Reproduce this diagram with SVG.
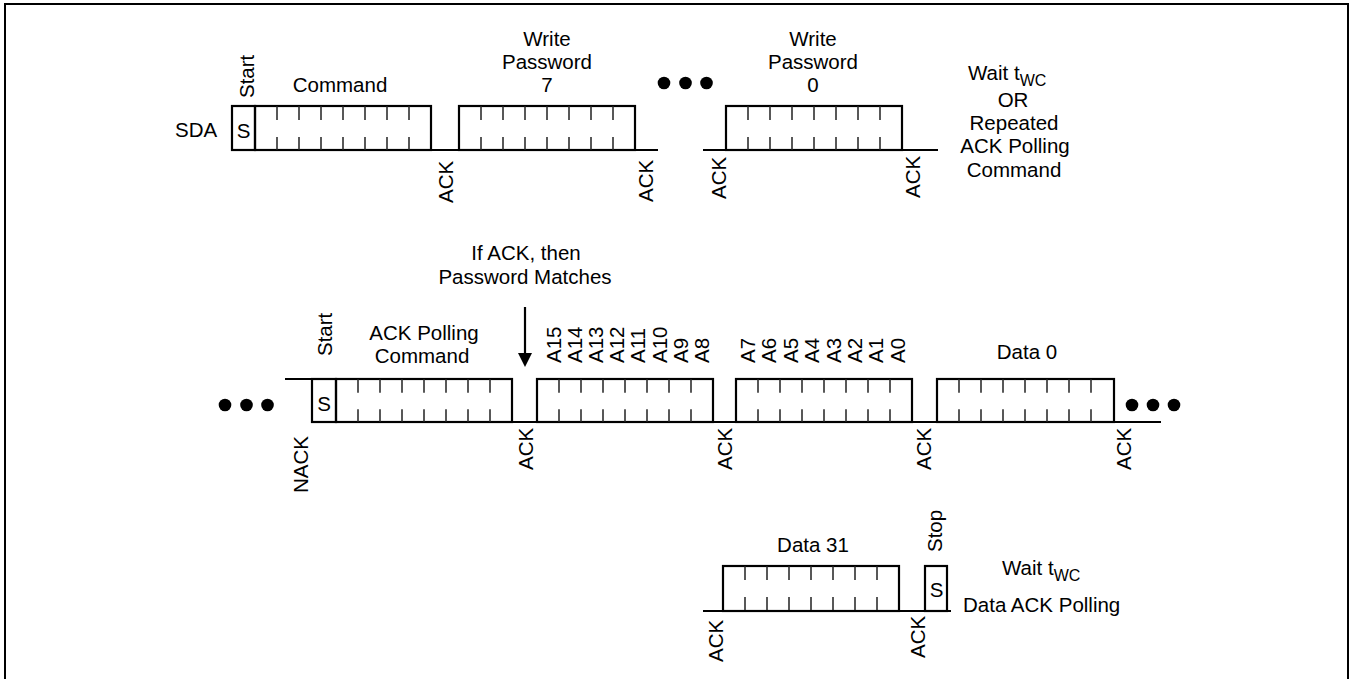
<svg xmlns="http://www.w3.org/2000/svg" width="1350" height="679" viewBox="0 0 1350 679">
<style>
text{font-family:"Liberation Sans",Arial,sans-serif;font-size:20.5px;fill:#000}
.m{text-anchor:middle}
.box{fill:none;stroke:#000;stroke-width:2.2}
.tk{stroke:#222;stroke-width:1.5}
.ln{stroke:#000;stroke-width:2.2;fill:none}
.dot{fill:#000}
.sub{font-size:16px}
</style>
<defs>
<path id="tk1" d="M22,0v14M44,0v14M66,0v14M88,0v14M110,0v14M132,0v14M154,0v14M22,31v13M44,31v13M66,31v13M88,31v13M110,31v13M132,31v13M154,31v13"/>
</defs>
<rect x="5" y="4" width="1343" height="700" fill="none" stroke="#000" stroke-width="2"/>

<g id="connectors">
<path class="ln" d="M232,150H658M703,150H938"/>
<path class="ln" d="M285,379H312M312,422H1161"/>
<path class="ln" d="M703,611H951"/>
<line class="ln" x1="525" y1="307" x2="525" y2="354" stroke-width="1.8"/>
<polygon points="518,353 532,353 525,367" fill="#000"/>
</g>

<g id="row1">
<text x="175" y="137">SDA</text>
<g id="start1">
<rect class="box" x="232" y="106" width="23" height="44"/>
<text class="m" x="243.5" y="138">S</text>
<text transform="translate(254,98) rotate(-90)">Start</text>
</g>
<g id="command1">
<rect class="box" x="255" y="106" width="176" height="44"/>
<use href="#tk1" class="tk" transform="translate(255,106)"/>
<text class="m" x="340" y="92">Command</text>
</g>
<g id="wp7">
<rect class="box" x="459" y="106" width="176" height="44"/>
<use href="#tk1" class="tk" transform="translate(459,106)"/>
<text class="m" x="547" y="46">Write</text>
<text class="m" x="547" y="69">Password</text>
<text class="m" x="547" y="92">7</text>
</g>
<g id="dots1">
<circle class="dot" cx="664" cy="83" r="6.3"/>
<circle class="dot" cx="685.5" cy="83" r="6.3"/>
<circle class="dot" cx="706.5" cy="83" r="6.3"/>
</g>
<g id="wp0">
<rect class="box" x="726" y="106" width="176" height="44"/>
<use href="#tk1" class="tk" transform="translate(726,106)"/>
<text class="m" x="813" y="46">Write</text>
<text class="m" x="813" y="69">Password</text>
<text class="m" x="813" y="92">0</text>
</g>
<text transform="translate(453,203) rotate(-90)">ACK</text>
<text transform="translate(653,202) rotate(-90)">ACK</text>
<text transform="translate(726,199) rotate(-90)">ACK</text>
<text transform="translate(920,198) rotate(-90)">ACK</text>
<g id="wait1">
<text x="968" y="80">Wait t<tspan class="sub" dy="6">WC</tspan></text>
<text class="m" x="1013" y="107">OR</text>
<text class="m" x="1014" y="130">Repeated</text>
<text class="m" x="1015" y="153">ACK Polling</text>
<text class="m" x="1014" y="177">Command</text>
</g>
</g>

<g id="row2">
<g id="note">
<text class="m" x="526" y="260">If ACK, then</text>
<text class="m" x="525" y="284">Password Matches</text>
</g>
<g id="dots2">
<circle class="dot" cx="225" cy="405" r="6.3"/>
<circle class="dot" cx="246.5" cy="405" r="6.3"/>
<circle class="dot" cx="267.5" cy="405" r="6.3"/>
</g>
<g id="start2">
<rect class="box" x="312" y="379" width="24" height="43"/>
<text class="m" x="324" y="411">S</text>
<text transform="translate(332,356) rotate(-90)">Start</text>
</g>
<g id="command2">
<rect class="box" x="336" y="379" width="176" height="43"/>
<use href="#tk1" class="tk" transform="translate(336,379) scale(1,0.977)"/>
<text class="m" x="424" y="340">ACK Polling</text>
<text class="m" x="422" y="363">Command</text>
</g>
<g id="addrhi">
<rect class="box" x="537" y="379" width="176" height="43"/>
<use href="#tk1" class="tk" transform="translate(537,379) scale(1,0.977)"/>
<text transform="translate(560.5,363) rotate(-90)">A15</text>
<text transform="translate(581.7,363) rotate(-90)">A14</text>
<text transform="translate(602.9,363) rotate(-90)">A13</text>
<text transform="translate(624.1,363) rotate(-90)">A12</text>
<text transform="translate(645.3,363) rotate(-90)">A11</text>
<text transform="translate(666.5,363) rotate(-90)">A10</text>
<text transform="translate(687.7,363) rotate(-90)">A9</text>
<text transform="translate(708.9,363) rotate(-90)">A8</text>
</g>
<g id="addrlo">
<rect class="box" x="736" y="379" width="176" height="43"/>
<use href="#tk1" class="tk" transform="translate(736,379) scale(1,0.977)"/>
<text transform="translate(755,363) rotate(-90)">A7</text>
<text transform="translate(776.4,363) rotate(-90)">A6</text>
<text transform="translate(797.8,363) rotate(-90)">A5</text>
<text transform="translate(819.2,363) rotate(-90)">A4</text>
<text transform="translate(840.6,363) rotate(-90)">A3</text>
<text transform="translate(862,363) rotate(-90)">A2</text>
<text transform="translate(883.4,363) rotate(-90)">A1</text>
<text transform="translate(904.8,363) rotate(-90)">A0</text>
</g>
<g id="data0">
<rect class="box" x="937" y="379" width="177" height="43"/>
<use href="#tk1" class="tk" transform="translate(937,379) scale(1,0.977)"/>
<text class="m" x="1027" y="359">Data 0</text>
</g>
<g id="dots3">
<circle class="dot" cx="1132" cy="405" r="6.3"/>
<circle class="dot" cx="1153" cy="405" r="6.3"/>
<circle class="dot" cx="1174" cy="405" r="6.3"/>
</g>
<text transform="translate(308,493) rotate(-90)">NACK</text>
<text transform="translate(533,470) rotate(-90)">ACK</text>
<text transform="translate(732,470) rotate(-90)">ACK</text>
<text transform="translate(931,470) rotate(-90)">ACK</text>
<text transform="translate(1131,470) rotate(-90)">ACK</text>
</g>

<g id="row3">
<g id="data31">
<rect class="box" x="723" y="566" width="176" height="45"/>
<use href="#tk1" class="tk" transform="translate(723,566)"/>
<text class="m" x="813" y="552">Data 31</text>
</g>
<g id="stop">
<rect class="box" x="925" y="566" width="22" height="45"/>
<text class="m" x="936.5" y="597">S</text>
<text transform="translate(942,552) rotate(-90)">Stop</text>
</g>
<g id="wait3">
<text x="1002" y="575">Wait t<tspan class="sub" dy="6">WC</tspan></text>
<text x="963" y="612">Data ACK Polling</text>
</g>
<text transform="translate(723,662) rotate(-90)">ACK</text>
<text transform="translate(925,658) rotate(-90)">ACK</text>
</g>
</svg>
